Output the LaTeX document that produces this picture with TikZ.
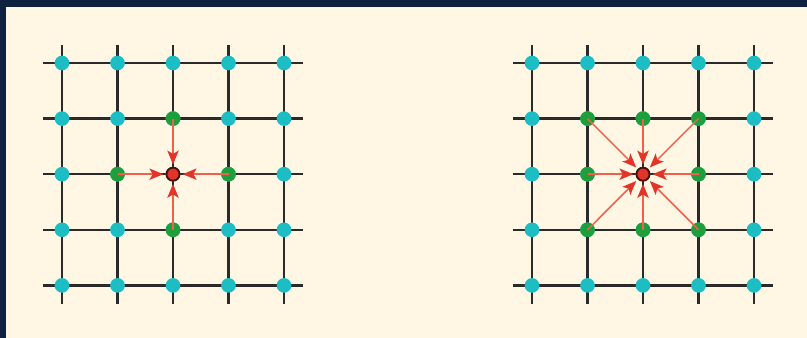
\documentclass[tikz,border=0pt]{standalone}
\usetikzlibrary{arrows.meta}
\definecolor{navy}{HTML}{0E2240}
\definecolor{cream}{HTML}{FFF6E4}
\definecolor{gridc}{HTML}{2A2A2A}
\definecolor{cyanc}{HTML}{1CBEC4}
\definecolor{greenc}{HTML}{1F9E3C}
\definecolor{redc}{HTML}{E2352A}
\definecolor{redl}{HTML}{F0604C}
\definecolor{reddark}{HTML}{4A1010}
\tikzset{
  gridline/.style={draw=gridc, line width=1.8pt},
  cdot/.style={circle, fill=cyanc, inner sep=0pt, minimum size=11pt},
  gdot/.style={circle, fill=greenc, inner sep=0pt, minimum size=11pt},
  rdot/.style={circle, fill=redc, draw=reddark, line width=1.4pt, inner sep=0pt, minimum size=9.8pt},
  flow/.style={draw=redl, line width=1.1pt, -{Stealth[length=10.5pt,width=8.5pt,inset=2.5pt,color=redc,fill=redc]}, shorten >=1.6pt}
}
\begin{document}
\begin{tikzpicture}[x=0.75pt,y=-0.75pt]
\useasboundingbox (0,0) rectangle (807,338);
\fill[navy] (0,0) rectangle (807,338);
\fill[cream] (6,7) rectangle (807,338);
% grids
\foreach \side/\ox in {L/62, R/532} {
  \foreach \i in {0,...,4} {
    \coordinate (\side h\i a) at (\ox-19, 63+55.6*\i);
    \coordinate (\side h\i b) at (\ox+241, 63+55.6*\i);
    \coordinate (\side v\i a) at (\ox+55.5*\i, 45);
    \coordinate (\side v\i b) at (\ox+55.5*\i, 304);
    \draw[gridline] (\side h\i a) -- (\side h\i b);
    \draw[gridline] (\side v\i a) -- (\side v\i b);
  }
}
% dots
\foreach \side/\ox in {L/62, R/532} {
  \foreach \i in {0,...,4} {
    \foreach \j in {0,...,4} {
      \node[cdot] (\side-\i-\j) at (\ox+55.5*\i, 63+55.6*\j) {};
    }
  }
}
% left: 4-neighbourhood
\foreach \i/\j in {2/1, 1/2, 3/2, 2/3} {
  \node[gdot] (Lg-\i-\j) at (L-\i-\j) {};
}
\node[rdot] (Lc) at (L-2-2) {};
\foreach \i/\j in {2/1, 1/2, 3/2, 2/3} {
  \draw[flow] (Lg-\i-\j.center) -- (Lc);
}
% right: 8-neighbourhood
\foreach \i/\j in {1/1, 2/1, 3/1, 1/2, 3/2, 1/3, 2/3, 3/3} {
  \node[gdot] (Rg-\i-\j) at (R-\i-\j) {};
}
\node[rdot] (Rc) at (R-2-2) {};
\foreach \i/\j in {1/1, 2/1, 3/1, 1/2, 3/2, 1/3, 2/3, 3/3} {
  \draw[flow] (Rg-\i-\j.center) -- (Rc);
}
\end{tikzpicture}
\end{document}
